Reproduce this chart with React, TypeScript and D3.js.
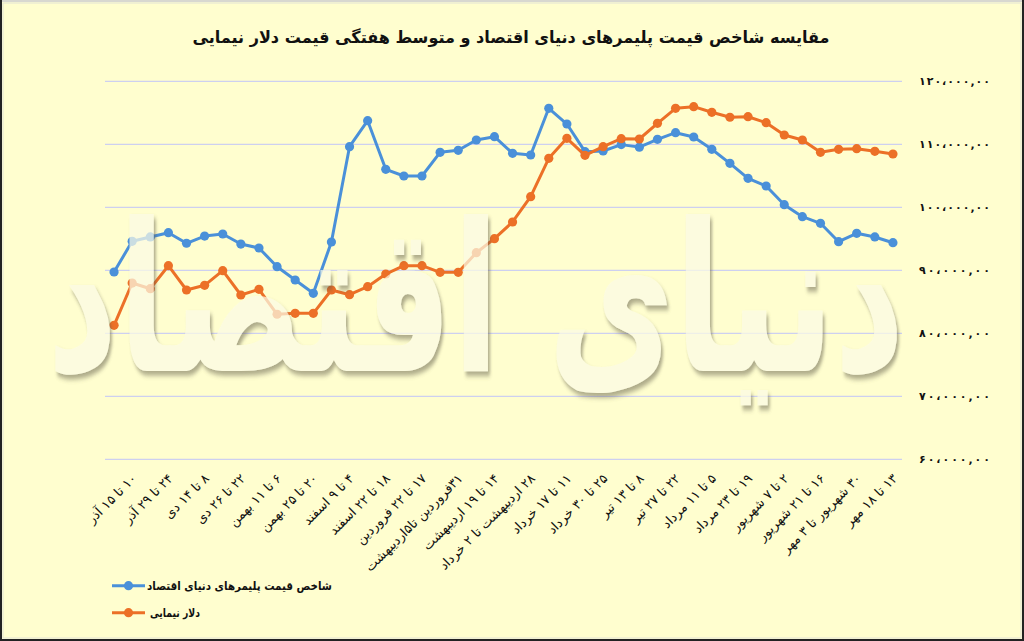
import * as d3 from "d3"

// week labels (every second week carries a label)
const tickLabels = [
  "۱۰ تا ۱۵ آذر",
  "۲۴ تا ۲۹ آذر",
  "۸ تا ۱۴ دی",
  "۲۲ تا ۲۶ دی",
  "۶ تا ۱۱ بهمن",
  "۲۰ تا ۲۵ بهمن",
  "۴ تا ۹ اسفند",
  "۱۸ تا ۲۲ اسفند",
  "۱۷ تا ۲۲ فروردین",
  "۳۱فروردین تا۵اردیبهشت",
  "۱۴ تا ۱۹ اردیبهشت",
  "۲۸ اردیبهشت تا ۲ خرداد",
  "۱۱ تا ۱۷ خرداد",
  "۲۵ تا ۳۰ خرداد",
  "۸ تا ۱۳ تیر",
  "۲۲ تا ۲۷ تیر",
  "۵ تا ۱۱ مرداد",
  "۱۹ تا ۲۳ مرداد",
  "۲ تا ۷ شهریور",
  "۱۶ تا ۲۱ شهریور",
  "۳۰ شهریور تا ۳ مهر",
  "۱۳ تا ۱۸ مهر",
]

const categories = tickLabels.flatMap((l) => ["", l])

const polymerIndex = [
  89730, 94600, 95290, 95970, 94290, 95440, 95760, 94170, 93540, 90570,
  88460, 86350, 94490, 109620, 113750, 106030, 104970, 104970, 108730, 109050,
  110680, 111210, 108570, 108300, 115710, 113220, 108830, 108940, 109950, 109550,
  110790, 111840, 111160, 109210, 106980, 104600, 103380, 100410, 98510, 97460,
  94540, 95870, 95290, 94380,
]

const nimaDollar = [
  81270, 87980, 87080, 90730, 86870, 87620, 89940, 86080, 86980, 83020,
  83170, 83170, 86870, 86130, 87400, 89410, 90730, 90730, 89680, 89680,
  92790, 95020, 97670, 101680, 107780, 110950, 108250, 109620, 110900, 110840,
  113330, 115710, 115970, 115080, 114290, 114380, 113430, 111480, 110680, 108730,
  109210, 109300, 108890, 108460,
]

const yTicks = [60000, 70000, 80000, 90000, 100000, 110000, 120000]

const series = [
  { name: "شاخص قیمت پلیمرهای دنیای اقتصاد", values: polymerIndex, color: "#4a90d9", legendWidth: 185 },
  { name: "دلار نیمایی", values: nimaDollar, color: "#ec7027", legendWidth: 50 },
]

const title = "مقایسه شاخص قیمت پلیمرهای دنیای اقتصاد و متوسط هفتگی قیمت دلار نیمایی"
const watermark = "دنیای اقتصاد"

const W = 1024
const H = 641
const font = "'DejaVu Sans', sans-serif"

const faDigits = (s: string) => s.replace(/\d/g, (d) => "۰۱۲۳۴۵۶۷۸۹"[+d])
const fmtY = (v: number) =>
  faDigits(d3.format(",.2f")(v).replace(/,/g, "،").replace(".", ","))

export default function App() {
  const plot = { left: 105, right: 902, top: 81.3, bottom: 459.3 }

  const x = d3
    .scalePoint<number>()
    .domain(d3.range(categories.length))
    .range([plot.left, plot.right])
    .padding(0.5)

  const y = d3.scaleLinear().domain([60000, 120000]).range([plot.bottom, plot.top])

  const line = d3
    .line<number>()
    .x((_, i) => x(i) as number)
    .y((d) => y(d))

  return (
    <svg
      width={W}
      height={H}
      style={{ position: "absolute", left: 0, top: 0, display: "block" }}
      fontFamily={font}
    >
      <defs>
        <filter id="wmShadow" x="-10%" y="-10%" width="120%" height="130%">
          <feDropShadow dx="2" dy="3" stdDeviation="1.6" floodColor="#5e5a44" floodOpacity="0.7" />
        </filter>
      </defs>

      {/* background and frame */}
      <rect x={0} y={0} width={W} height={H} fill="#fffecf" />
      <rect x={1} y={1} width={W - 2} height={H - 2} fill="none" stroke="#222" strokeWidth={2} />
      <line x1={2} x2={W - 2} y1={1} y2={1} stroke="#d8d8d0" strokeWidth={2} />
      <rect x={3} y={3} width={W - 6} height={H - 6} fill="none" stroke="#e2e2d6" strokeWidth={1} />

      {/* title */}
      <text
        x={511}
        y={43}
        textAnchor="middle"
        direction="rtl"
        fontSize={16.5}
        fontWeight="bold"
        fill="#111"
        textLength={637}
        lengthAdjust="spacingAndGlyphs"
      >
        {title}
      </text>

      {/* gridlines */}
      <g>
        {yTicks.map((t) => (
          <line
            key={t}
            x1={plot.left}
            x2={plot.right}
            y1={y(t)}
            y2={y(t)}
            stroke="#cdd0f0"
            strokeWidth={1.2}
          />
        ))}
      </g>

      {/* series */}
      {series.map((s) => (
        <g key={s.name}>
          <path d={line(s.values) ?? ""} fill="none" stroke={s.color} strokeWidth={3} strokeLinejoin="round" />
          {s.values.map((v, i) => (
            <circle key={i} cx={x(i)} cy={y(v)} r={4.6} fill={s.color} />
          ))}
        </g>
      ))}

      {/* watermark */}
      <g transform="translate(476,332) scale(1,1.5)">
        <text
          x={0}
          y={26}
          textAnchor="middle"
          direction="rtl"
          fontSize={138}
          fontWeight="bold"
          fill="#fcfbe6"
          opacity={0.72}
          filter="url(#wmShadow)"
        >
          {watermark}
        </text>
      </g>

      {/* y axis labels (right side) */}
      <g>
        {yTicks.map((t) => (
          <text
            key={t}
            x={919}
            y={y(t)}
            dy="0.35em"
            fontSize={11}
            fontWeight="bold"
            fill="#111"
            textLength={71}
            lengthAdjust="spacing"
          >
            {fmtY(t)}
          </text>
        ))}
      </g>

      {/* x axis labels */}
      <g>
        {categories.map((c, i) =>
          c ? (
            <text
              key={i}
              transform={`translate(${(x(i) as number) + 2},${476}) rotate(-45)`}
              dy="0.35em"
              textAnchor="start"
              direction="rtl"
              fontSize={13}
              fill="#111"
            >
              {c}
            </text>
          ) : null
        )}
      </g>

      {/* legend */}
      {series.map((s, i) => {
        const ly = 585.7 + i * 27
        return (
          <g key={s.name}>
            <line x1={112} x2={145} y1={ly} y2={ly} stroke={s.color} strokeWidth={3} />
            <circle cx={128.5} cy={ly} r={4.6} fill={s.color} />
            <text
              x={i === 0 ? 147 + s.legendWidth : 150 + s.legendWidth}
              y={ly}
              dy="0.35em"
              textAnchor="start"
              direction="rtl"
              fontSize={11.5}
              fontWeight="bold"
              fill="#111"
              textLength={s.legendWidth}
              lengthAdjust="spacingAndGlyphs"
            >
              {s.name}
            </text>
          </g>
        )
      })}
    </svg>
  )
}
